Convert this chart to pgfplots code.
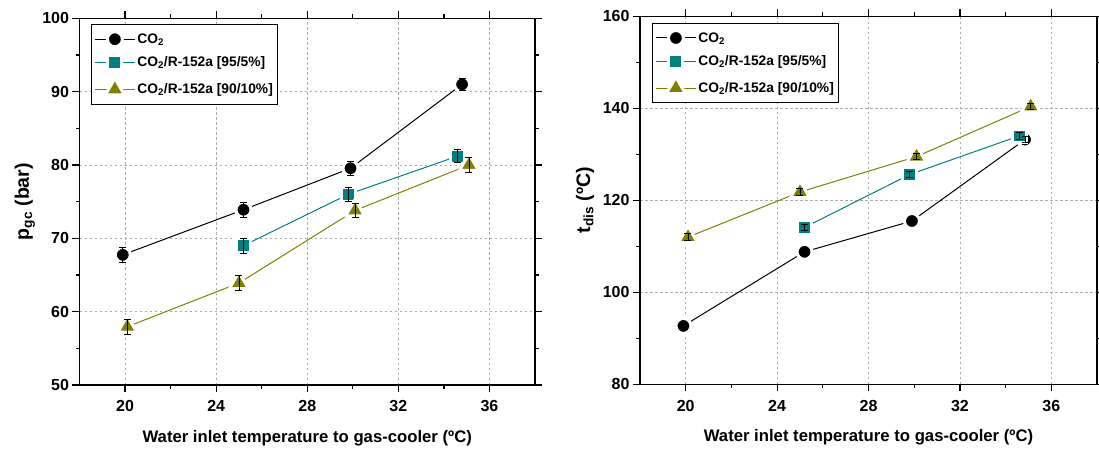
\documentclass[border=0pt]{standalone}
\usepackage{fontspec}
\setmainfont{Liberation Sans}
\usepackage{pgfplots}
\pgfplotsset{compat=1.18}
\definecolor{tealc}{RGB}{0,128,128}
\definecolor{olivec}{RGB}{128,128,0}

\pgfplotstableread{
x y e
19.9 67.75 1.0
25.2 73.9 1.0
29.9 79.55 1.0
34.8 91.0 0.8
}\leftcotwo
\pgfplotstableread{
x y e
25.2 69.0 1.0
29.8 76.0 1.0
34.6 81.2 0.9
}\leftninetyfive
\pgfplotstableread{
x y e
20.1 57.95 1.0
25.0 63.9 1.0
30.1 73.8 1.0
35.1 80.0 1.0
}\leftninety
\pgfplotstableread{
x y e
19.9 92.7 0.7
25.2 108.8 0.7
29.9 115.5 0.7
34.85 133.2 0.7
}\rightcotwo
\pgfplotstableread{
x y e
25.2 114.1 0.7
29.8 125.6 0.7
34.6 134.0 0.7
}\rightninetyfive
\pgfplotstableread{
x y e
20.1 112.0 0.7
25.0 121.8 0.7
30.1 129.5 0.7
35.1 140.4 0.7
}\rightninety

\newcommand{\ylabfont}{\bfseries\fontsize{19.5}{21}\selectfont}
\pgfplotsset{
  panel/.style={
    scale only axis, width=455.5pt, height=366.7pt,
    xmin=18, xmax=38, xtick={20,24,...,36}, minor x tick num=1,
    minor y tick num=1,
    tick align=outside,
    major tick length=7pt, minor tick length=4pt,
    tick style={black, line width=1.2pt},
    axis line style={line width=1.5pt},
    grid=major,
    major grid style={gray!65, line width=0.8pt, dash pattern=on 2.5pt off 2.5pt},
    clip marker paths=true,
    /pgf/number format/assume math mode=true,
    tick label style={font=\bfseries\fontsize{16}{18}\selectfont},
    xticklabel style={yshift=-5pt},
    xlabel={Water inlet temperature to gas-cooler (ºC)},
    xlabel style={font=\bfseries\fontsize{16.7}{18}\selectfont, at={(axis description cs:0.5,-0.1445)}, anchor=center},
    ylabel style={at={(axis description cs:-0.12,0.5)}, anchor=center},
    legend style={at={(0.025,0.984)}, anchor=north west, draw=black, line width=1pt, fill=white,
      font=\bfseries\fontsize{13.8}{15}\selectfont, inner xsep=3pt, inner ysep=7pt, row sep=8pt},
    legend cell align=left,
    legend image code/.code={
      \draw[#1, mark=none] (0pt,0pt) -- (40pt,0pt);
      \draw[#1] plot[only marks] coordinates {(20pt,0pt)};
    },
  },
  sc/.style={black, line width=1pt, mark=*, mark size=7.5pt, mark options={fill=black, draw=white, line width=3pt}},
  ss/.style={tealc, line width=1pt, mark=square*, mark size=6.9pt, mark options={fill=tealc, draw=white, line width=3pt}},
  st/.style={olivec, line width=1pt, mark=triangle*, mark size=11pt, mark options={fill=olivec, draw=white, line width=3pt, line join=round}},
  eb/.style={forget plot, black, only marks, mark=*, mark size=0.01pt, line width=0.8pt,
    error bars/.cd, y dir=both, y explicit,
    error bar style={black, line width=0.8pt, solid},
    error mark options={rotate=90, black, mark size=3.5pt, line width=0.8pt}},
}

\begin{document}
\begin{tikzpicture}
\useasboundingbox (0,0) rectangle (1099pt,455pt);
\begin{axis}[panel, at={(79.5pt,70pt)}, anchor=south west,
  ymin=50, ymax=100, ytick={50,60,...,100},
  ylabel={\ylabfont p\textsubscript{gc} (bar)}]
\addplot[sc] table[x=x,y=y] {\leftcotwo};
\addlegendentry{CO\textsubscript{2}}
\addplot[ss] table[x=x,y=y] {\leftninetyfive};
\addlegendentry{CO\textsubscript{2}/R-152a [95/5\%]}
\addplot[st] table[x=x,y=y] {\leftninety};
\addlegendentry{CO\textsubscript{2}/R-152a [90/10\%]}
\addplot[eb] table[x=x,y=y,y error=e] {\leftcotwo};
\addplot[eb] table[x=x,y=y,y error=e] {\leftninetyfive};
\addplot[eb] table[x=x,y=y,y error=e] {\leftninety};
\end{axis}
\begin{axis}[panel, at={(640pt,70.7pt)}, anchor=south west, width=457pt, height=368pt,
  ymin=80, ymax=160, ytick={80,100,...,160},
  ylabel={\ylabfont t\textsubscript{dis} (ºC)},
  legend style={at={(0.026,0.982)}}]
\addplot[sc] table[x=x,y=y] {\rightcotwo};
\addlegendentry{CO\textsubscript{2}}
\addplot[ss] table[x=x,y=y] {\rightninetyfive};
\addlegendentry{CO\textsubscript{2}/R-152a [95/5\%]}
\addplot[st] table[x=x,y=y] {\rightninety};
\addlegendentry{CO\textsubscript{2}/R-152a [90/10\%]}
\addplot[eb] table[x=x,y=y,y error=e] {\rightcotwo};
\addplot[eb] table[x=x,y=y,y error=e] {\rightninetyfive};
\addplot[eb] table[x=x,y=y,y error=e] {\rightninety};
\end{axis}
\end{tikzpicture}
\end{document}
